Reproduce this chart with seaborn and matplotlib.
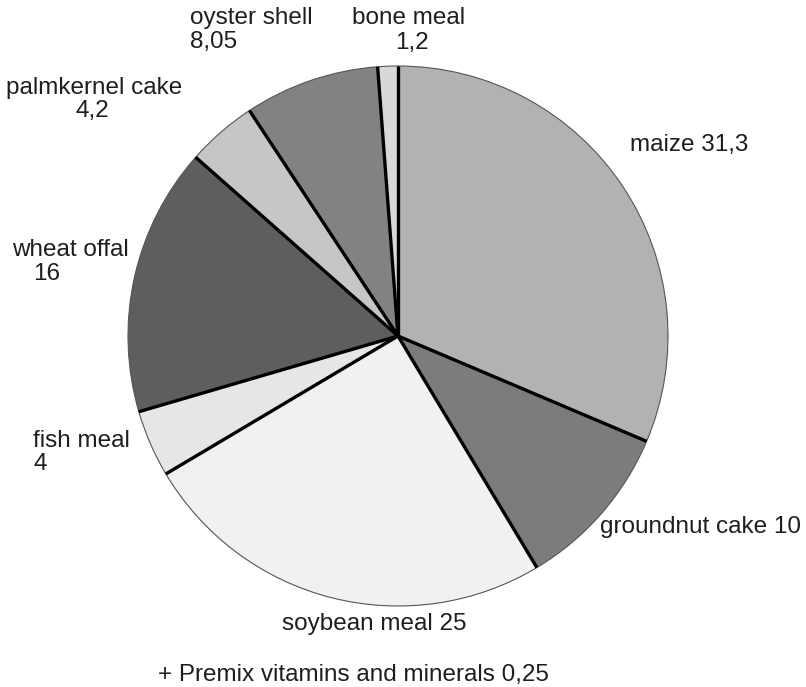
import seaborn as sns
import matplotlib.pyplot as plt
import numpy as np

# ----------------------------
# Data (feed composition, %)
# ----------------------------
ingredients = ['maize', 'groundnut cake', 'soybean meal', 'fish meal',
               'wheat offal', 'palmkernel cake', 'oyster shell', 'bone meal']
shares = [31.3, 10, 25, 4, 16, 4.2, 8.05, 1.2]
share_labels = ['31,3', '10', '25', '4', '16', '4,2', '8,05', '1,2']
premix_label = '+ Premix vitamins and minerals 0,25'

grays = ['#b2b2b2', '#7c7c7c', '#f1f1f1', '#e6e6e6',
         '#5e5e5e', '#c6c6c6', '#828282', '#d8d8d8']

# ----------------------------
# Figure
# ----------------------------
sns.set_theme(style="white")
plt.rcParams['font.family'] = ['Liberation Sans', 'DejaVu Sans']

W, H = 806, 687
fig = plt.figure(figsize=(W / 100, H / 100), dpi=100)
ax = fig.add_axes([0, 0, 1, 1])

def py(y):
    # pixel row (from top) -> data y
    return H - y

wedges, _ = ax.pie(
    shares,
    colors=grays,
    startangle=90,
    counterclock=False,
    center=(398, py(336)),
    radius=270,
    wedgeprops=dict(edgecolor='#555555', linewidth=0.8),
)

# thick black separators between slices
for w in wedges:
    cx, cy = w.center
    ang = np.deg2rad(w.theta1)
    ax.plot([cx, cx + w.r * np.cos(ang)],
            [cy, cy + w.r * np.sin(ang)],
            color='black', lw=2.4, solid_capstyle='butt', zorder=5)

ax.set_xlim(0, W)
ax.set_ylim(0, H)
ax.set_aspect('equal')
ax.axis('off')

fs = 17.5
tc = '#1e1e1e'
kw = dict(fontsize=fs, color=tc, va='center')

ax.text(630, py(145), f'{ingredients[0]} {share_labels[0]}', ha='left', **kw)
ax.text(600, py(527), f'{ingredients[1]} {share_labels[1]}', ha='left', **kw)
ax.text(282, py(624), f'{ingredients[2]} {share_labels[2]}', ha='left', **kw)

ax.text(33, py(441), ingredients[3], ha='left', **kw)
ax.text(33, py(464), share_labels[3], ha='left', **kw)

ax.text(12, py(250), ingredients[4], ha='left', **kw)
ax.text(33, py(274), share_labels[4], ha='left', **kw)

ax.text(94, py(88), ingredients[5], ha='center', **kw)
ax.text(92, py(111), share_labels[5], ha='center', **kw)

ax.text(190, py(18), ingredients[6], ha='left', **kw)
ax.text(190, py(42), share_labels[6], ha='left', **kw)

ax.text(409, py(18), ingredients[7], ha='center', **kw)
ax.text(412, py(43), share_labels[7], ha='center', **kw)

ax.text(158, py(675), premix_label, ha='left', **kw)

plt.savefig('out.png', dpi=100, facecolor='white')
plt.close()
